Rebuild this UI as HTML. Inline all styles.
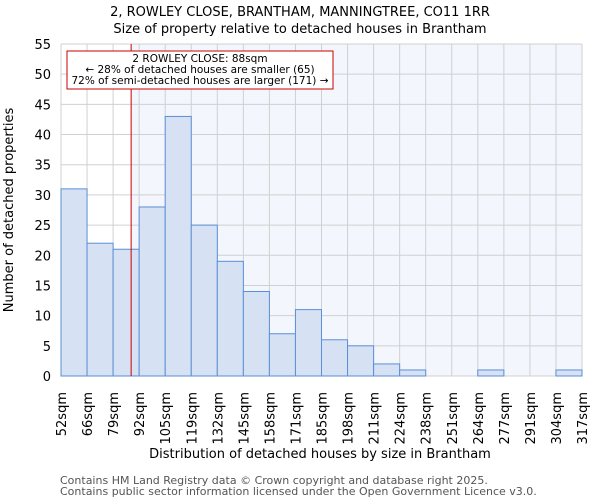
<!DOCTYPE html>
<html><head><meta charset="utf-8"><style>
body{margin:0;background:#fff;font-family:"DejaVu Sans","Liberation Sans",sans-serif;}
text{font-family:"DejaVu Sans","Liberation Sans",sans-serif;}
</style></head><body>
<svg id="c" width="600" height="500"></svg>
<script>
const labels=["52sqm","66sqm","79sqm","92sqm","105sqm","119sqm","132sqm","145sqm","158sqm","171sqm","185sqm","198sqm","211sqm","224sqm","238sqm","251sqm","264sqm","277sqm","291sqm","304sqm","317sqm"];
const counts=[31,22,21,28,43,25,19,14,7,11,6,5,2,1,0,0,1,0,0,1];
const yTicks=[0,5,10,15,20,25,30,35,40,45,50,55];
const propertySize=88;
const binStarts=[52,66,79,92,105,119,132,145,158,171,185,198,211,224,238,251,264,277,291,304,317];
const NS="http://www.w3.org/2000/svg";
const svg=document.getElementById('c');
const L=61,R=582,T=44,B=376,yMax=55;
const bw=(R-L)/counts.length;
const y=v=>B-(B-T)*v/yMax;
const xi=i=>L+bw*i;
function xv(v){for(let i=0;i<binStarts.length-1;i++){if(v>=binStarts[i]&&v<=binStarts[i+1])return xi(i)+bw*(v-binStarts[i])/(binStarts[i+1]-binStarts[i]);}return R;}
function el(t,a,p){const e=document.createElementNS(NS,t);for(const k in a)e.setAttribute(k,a[k]);(p||svg).appendChild(e);return e;}
const mx=xv(propertySize);
let e=el('rect',{x:L,y:T,width:R-L,height:B-T,fill:'#ffffff'});


e=el('rect',{x:mx,y:T,width:R-mx,height:B-T,fill:'#f3f6fd'});


for(let i=0;i<=counts.length;i++){e=el('line',{x1:xi(i),x2:xi(i),y1:T,y2:B,stroke:'#d0d0d0','stroke-width':1});

}
yTicks.forEach(t=>{e=el('line',{x1:L,x2:R,y1:y(t),y2:y(t),stroke:'#d0d0d0','stroke-width':1});


const tx=el('text',{x:L-10,y:y(t)+5,'text-anchor':'end','font-size':13,fill:'#000'});tx.textContent=t;

});
counts.forEach((c,i)=>{if(c<=0)return;const b=el('rect',{x:xi(i),y:y(c),width:bw,height:B-y(c),fill:'#d6e1f3',stroke:'#5b8fd6','stroke-width':1});

});
labels.forEach((l,i)=>{const tx=el('text',{transform:`translate(${xi(i)+5},392) rotate(-90)`,'text-anchor':'end','font-size':13,fill:'#000'});tx.textContent=l;

});
e=el('line',{x1:mx,x2:mx,y1:T,y2:B,stroke:'#cc0000','stroke-width':1});


e=el('rect',{x:67,y:51,width:266,height:38,fill:'#fff',stroke:'#cc0000','stroke-width':1});


[["2 ROWLEY CLOSE: 88sqm",62],["\u2190 28% of detached houses are smaller (65)",73],["72% of semi-detached houses are larger (171) \u2192",84]].forEach(([s,yy])=>{const tx=el('text',{x:200,y:yy,'text-anchor':'middle','font-size':10.5,fill:'#000'});tx.textContent=s;

});
function txt(s,x,yy,sz,name,extra){const tx=el('text',Object.assign({x:x,y:yy,'font-size':sz,fill:'#000'},extra||{}));tx.textContent=s;

return tx;}
txt("2, ROWLEY CLOSE, BRANTHAM, MANNINGTREE, CO11 1RR",300,16,13,'chart-title',{'text-anchor':'middle'});
txt("Size of property relative to detached houses in Brantham",300,33,13,'chart-subtitle',{'text-anchor':'middle'});
txt("Distribution of detached houses by size in Brantham",320,458,13,'x-axis-title',{'text-anchor':'middle'});
txt("Number of detached properties",0,0,13,'y-axis-title',{'text-anchor':'middle',transform:'translate(13,210) rotate(-90)'});
txt("Contains HM Land Registry data \u00a9 Crown copyright and database right 2025.",60,484,11,'footer-line-1',{fill:'#555'});
txt("Contains public sector information licensed under the Open Government Licence v3.0.",60,495,11,'footer-line-2',{fill:'#555'});
</script>
</body></html>
